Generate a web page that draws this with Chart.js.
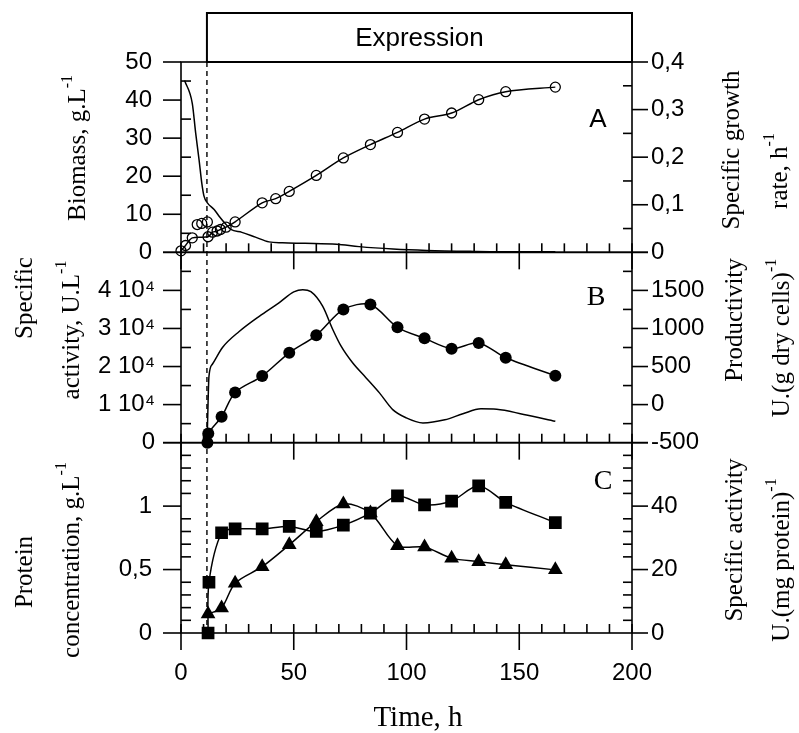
<!DOCTYPE html>
<html lang="en">
<head>
<meta charset="UTF-8">
<title>Fermentation kinetics - expression phase</title>
<script src="https://cdn.jsdelivr.net/npm/chart.js@4.4.1/dist/chart.umd.min.js"></script>
<style>
    body { margin: 0; background: #fff; }
    canvas { display: block; }
</style>
</head>
<body>
<canvas id="chart" width="799" height="733"></canvas>
<script>
// start of the expression phase (h)
const inductionTime = 11.5;

// Panel A: biomass (g/L, open circles) and specific growth rate (1/h, thin line)
const biomassTime  = [0, 2, 5, 12, 14, 16, 17.5, 20, 24, 36, 42, 48, 60, 72, 84, 96, 108, 120, 132, 144, 166];
const biomassValue = [0.4, 1.8, 3.8, 4.1, 5.3, 5.6, 6.0, 6.6, 8.0, 13.0, 14.1, 16.0, 20.2, 24.8, 28.3, 31.5, 35.0, 36.6, 40.1, 42.2, 43.4];
const biomassOffTime  = [7.2, 9.2, 11.7];
const biomassOffValue = [7.3, 7.6, 8.0];
const growthTime = [1.6, 5, 6.5, 8, 9.2, 10.2, 11.7, 14.7, 16.9, 19.9, 22.1, 27, 33, 39, 45, 55, 69, 79, 94, 109, 130, 150, 166];
const growthRate = [0.361, 0.313, 0.251, 0.195, 0.146, 0.118, 0.104, 0.090, 0.076, 0.059, 0.048, 0.042, 0.032, 0.022, 0.020, 0.019, 0.017, 0.012, 0.007, 0.004, 0.002, 0.001, 0.001];

// Panel B: activity (U/L, filled circles) and productivity (U/(g dry cells), thin line)
const activityTime  = [11.7, 12.1, 18, 24, 36, 48, 60, 72, 84, 96, 108, 120, 132, 144, 166];
const activityValue = [0, 2400, 6800, 13200, 17500, 23600, 28200, 35000, 36300, 30300, 27400, 24700, 26200, 22300, 17600];
const productivityTime  = [11.7, 12.4, 13.9, 18.4, 25.8, 34.7, 43.6, 50, 54, 57.6, 62.8, 67.3, 71, 76.1, 82.1, 88, 93.9, 99.9, 107.3, 117, 125, 133, 140, 152, 166];
const productivityValue = [-330, 370, 530, 750, 960, 1160, 1340, 1480, 1510, 1483, 1293, 987, 767, 549, 351, 154, -66, -175, -241, -200, -120, -55, -60, -130, -220];

// Panel C: protein (g/L, squares) and specific activity (U/mg protein, triangles)
const proteinTime  = [12, 12.4, 18, 24, 36, 48, 60, 72, 84, 96, 108, 120, 132, 144, 166];
const proteinValue = [0, 0.4, 0.79, 0.82, 0.82, 0.84, 0.80, 0.85, 0.945, 1.08, 1.01, 1.04, 1.16, 1.03, 0.87];
const specActTime  = [12, 18, 24, 36, 48, 60, 72, 84, 96, 108, 120, 132, 144, 166];
const specActValue = [6.0, 7.9, 15.7, 20.9, 27.8, 35.1, 40.7, 37.8, 27.5, 27.1, 23.6, 22.5, 21.5, 19.9];

const pts = (xs, ys) => xs.map((x, i) => ({x: x, y: ys[i]}));

const SANS = "'Liberation Sans', Arial, sans-serif";
const SERIF = "'Liberation Serif', 'Times New Roman', serif";

const minorStep = {x: 10, yA: 5, yA2: 0.05, yB: 5000, yB2: 250, yC: 0.1, yC2: 4};
const panels = [['yA', 'yA2', 'A', SANS], ['yB', 'yB2', 'B', SERIF], ['yC', 'yC2', 'C', SERIF]];

const axisTitles = [
    {text: 'Biomass, g.L', sup: '-1', x: 78, y: 148},
    {text: 'Specific', x: 25, y: 298},
    {text: 'activity, U.L', sup: '-1', x: 72, y: 330},
    {text: 'Protein', x: 25, y: 572},
    {text: 'concentration, g.L', sup: '-1', x: 72, y: 560},
    {text: 'Specific growth', x: 732, y: 150},
    {text: 'rate, h', sup: '-1', x: 780, y: 171},
    {text: 'Productivity', x: 735, y: 320},
    {text: 'U.(g dry cells)', sup: '-1', x: 782, y: 338},
    {text: 'Specific activity', x: 735, y: 540},
    {text: 'U.(mg protein)', sup: '-1', x: 782, y: 560}
];

function drawTitle(ctx, t, size) {
    const supSize = Math.round(size * 0.62);
    ctx.save();
    ctx.translate(t.x, t.y);
    ctx.rotate(-Math.PI / 2);
    ctx.textBaseline = 'middle';
    ctx.textAlign = 'left';
    ctx.font = size + 'px ' + SERIF;
    const w1 = ctx.measureText(t.text).width;
    let w2 = 0;
    if (t.sup) {
        ctx.font = supSize + 'px ' + SERIF;
        w2 = ctx.measureText(t.sup).width;
    }
    const x0 = -(w1 + w2) / 2;
    ctx.font = size + 'px ' + SERIF;
    ctx.fillText(t.text, x0, 0);
    if (t.sup) {
        ctx.font = supSize + 'px ' + SERIF;
        ctx.fillText(t.sup, x0 + w1, -size * 0.42);
    }
    ctx.restore();
}

function minorValues(scale, step) {
    const out = [];
    const majors = scale.ticks.map(t => t.value);
    for (let v = scale.min; v <= scale.max + step / 100; v += step) {
        const r = Math.round(v / step) * step;
        if (!majors.some(m => Math.abs(m - r) < step / 100)) out.push(r);
    }
    return out;
}

// frames, ticks, dashed induction line, expression box, titles
const decorations = {
    id: 'decorations',
    afterDraw(chart) {
        const ctx = chart.ctx;
        const xs = chart.scales.x;
        const left = chart.chartArea.left, right = chart.chartArea.right;
        ctx.save();
        ctx.strokeStyle = '#000';
        ctx.fillStyle = '#000';
        ctx.lineWidth = 1.6;
        const line = (x1, y1, x2, y2) => { ctx.beginPath(); ctx.moveTo(x1, y1); ctx.lineTo(x2, y2); ctx.stroke(); };

        panels.forEach(([lid, rid, letter, font]) => {
            const ls = chart.scales[lid], rs = chart.scales[rid];
            const top = ls.top, bottom = ls.bottom;
            ctx.strokeRect(left, top, right - left, bottom - top);
            // x ticks on the bottom edge of each panel
            xs.ticks.forEach(t => { const p = xs.getPixelForValue(t.value); line(p, bottom - 9, p, bottom + 17); });
            minorValues(xs, minorStep.x).forEach(v => { const p = xs.getPixelForValue(v); line(p, bottom - 9, p, bottom); });
            // left axis ticks
            ls.ticks.forEach(t => { const p = ls.getPixelForValue(t.value); line(left - 18, p, left, p); });
            minorValues(ls, minorStep[lid]).forEach(v => { const p = ls.getPixelForValue(v); line(left, p, left + 10, p); });
            // right axis ticks
            rs.ticks.forEach(t => { const p = rs.getPixelForValue(t.value); line(right, p, right + 16, p); });
            minorValues(rs, minorStep[rid]).forEach(v => { const p = rs.getPixelForValue(v); line(right - 9, p, right, p); });
            // panel letter
            ctx.font = (letter === 'A' ? '26px ' : '28px ') + font;
            ctx.textAlign = 'center';
            ctx.textBaseline = 'middle';
            const off = {A: [34, 58], B: [36, 45], C: [29, 39]}[letter];
            ctx.fillText(letter, right - off[0], top + off[1]);
        });

        // induction line
        const xi = xs.getPixelForValue(inductionTime);
        ctx.save();
        ctx.setLineDash([5, 4]);
        ctx.lineWidth = 1.4;
        line(xi, chart.chartArea.top, xi, chart.chartArea.bottom);
        ctx.restore();

        // expression box
        ctx.lineWidth = 2;
        ctx.strokeRect(xi, 13, right - xi, chart.chartArea.top - 13);
        ctx.font = '26px ' + SANS;
        ctx.textAlign = 'center';
        ctx.textBaseline = 'middle';
        ctx.fillText('Expression', (xi + right) / 2, (13 + chart.chartArea.top) / 2 + 1);

        // axis titles
        axisTitles.forEach(t => drawTitle(ctx, t, 25));
        ctx.font = '29px ' + SERIF;
        ctx.textAlign = 'center';
        ctx.textBaseline = 'middle';
        ctx.fillText('Time, h', 418, 718);
        ctx.restore();
    }
};

const tickFont = {family: SANS, size: 24};
function yAxis(pos, weight, min, max, step, pad, fmt) {
    return {
        type: 'linear', position: pos, stack: pos, stackWeight: 1, weight: weight,
        min: min, max: max,
        grid: {display: false, drawTicks: false},
        border: {display: false},
        ticks: {stepSize: step, autoSkip: false, padding: pad, color: '#000', font: tickFont, callback: fmt},
        afterFit(scale) { scale.width = pos === 'left' ? 181 : 167; }
    };
}
const comma = v => String(v).replace('.', ',');

const lineStyle = {borderColor: '#000', borderWidth: 1.5, showLine: true, clip: 12};

new Chart(document.getElementById('chart'), {
    type: 'scatter',
    data: {
        datasets: [
            Object.assign({data: pts(biomassTime, biomassValue), yAxisID: 'yA', tension: 0.3,
                pointStyle: 'circle', pointRadius: 5, pointBorderWidth: 1.3,
                pointBorderColor: '#000', pointBackgroundColor: 'rgba(0,0,0,0)'}, lineStyle),
            {data: pts(biomassOffTime, biomassOffValue), yAxisID: 'yA', showLine: false, clip: 12,
                pointStyle: 'circle', pointRadius: 5, pointBorderWidth: 1.3,
                pointBorderColor: '#000', pointBackgroundColor: 'rgba(0,0,0,0)'},
            Object.assign({data: pts(growthTime, growthRate), yAxisID: 'yA2', cubicInterpolationMode: 'monotone',
                pointRadius: 0}, lineStyle),
            Object.assign({data: pts(activityTime, activityValue), yAxisID: 'yB', tension: 0.3,
                pointStyle: 'circle', pointRadius: 6, pointBorderWidth: 0,
                pointBackgroundColor: '#000'}, lineStyle),
            Object.assign({data: pts(productivityTime, productivityValue), yAxisID: 'yB2', cubicInterpolationMode: 'monotone',
                pointRadius: 0}, lineStyle),
            Object.assign({data: pts(proteinTime, proteinValue), yAxisID: 'yC', tension: 0.3,
                pointStyle: 'rect', pointRadius: 9, pointBorderWidth: 0,
                pointBackgroundColor: '#000'}, lineStyle),
            Object.assign({data: pts(specActTime, specActValue), yAxisID: 'yC2', tension: 0.3,
                pointStyle: 'triangle', pointRadius: 8.5, pointBorderWidth: 0,
                pointBackgroundColor: '#000'}, lineStyle)
        ]
    },
    options: {
        responsive: false,
        animation: false,
        layout: {padding: {top: 62, left: 0, right: 0, bottom: 0}},
        plugins: {legend: {display: false}, tooltip: {enabled: false}},
        scales: {
            x: {
                type: 'linear', position: 'bottom', min: 0, max: 200,
                grid: {display: false, drawTicks: false},
                border: {display: false},
                ticks: {stepSize: 50, autoSkip: false, maxRotation: 0, padding: 26, color: '#000', font: tickFont},
                afterFit(scale) { scale.height = 100; }
            },
            yA:  yAxis('left', 3, 0, 50, 10, 29, v => String(v)),
            yB:  yAxis('left', 2, 0, 50000, 10000, 26, v => v >= 50000 ? '' : (v === 0 ? '0' : (v / 10000) + ' 10\u2074')),
            yC:  yAxis('left', 1, 0, 1.5, 0.5, 29, v => v >= 1.5 ? '' : comma(v)),
            yA2: yAxis('right', 1, 0, 0.4, 0.1, 19, v => v === 0 ? '0' : v.toFixed(1).replace('.', ',')),
            yB2: yAxis('right', 2, -500, 2000, 500, 19, v => v >= 2000 ? '' : String(v)),
            yC2: yAxis('right', 3, 0, 60, 20, 19, v => v >= 60 ? '' : String(v))
        }
    },
    plugins: [decorations]
});
</script>
</body>
</html>
